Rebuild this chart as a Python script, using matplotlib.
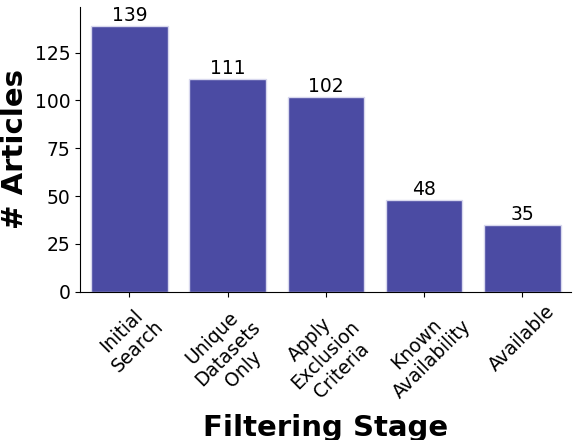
import matplotlib.pyplot as plt

stages = ["Initial\nSearch", "Unique\nDatasets\nOnly", "Apply\nExclusion\nCriteria",
          "Known\nAvailability", "Available"]
counts = [139, 111, 102, 48, 35]

fig, ax = plt.subplots(figsize=(5.86, 4.4), dpi=100)
fig.subplots_adjust(left=0.137, right=0.975, top=0.985, bottom=0.337)

bars = ax.bar(range(len(stages)), counts, width=0.78, color="#4b4ba3",
              edgecolor="#d8d8ee", linewidth=1)
for b, v in zip(bars, counts):
    ax.text(b.get_x() + b.get_width() / 2, v + 0.5, str(v),
            ha="center", va="bottom", fontsize=13.5)

ax.set_xticks(range(len(stages)))
ax.set_xticklabels(stages, rotation=45, ha="center",
                   fontsize=13.5, multialignment="center")
ax.tick_params(axis="y", labelsize=13.5)
ax.set_yticks([0, 25, 50, 75, 100, 125])
ax.set_ylim(0, 149)
ax.set_xlim(-0.5, 4.5)
ax.set_ylabel("# Articles", fontsize=21, fontweight="bold")
ax.set_xlabel("Filtering Stage", fontsize=21, fontweight="bold")
ax.spines["top"].set_visible(False)
ax.spines["right"].set_visible(False)

fig.savefig("out.png")
